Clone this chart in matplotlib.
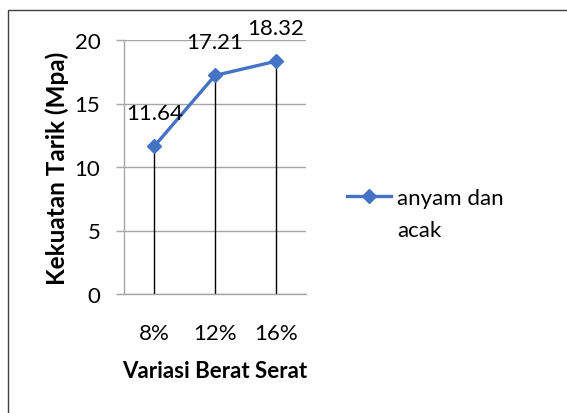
import matplotlib
matplotlib.use("Agg")
import matplotlib.pyplot as plt
from matplotlib.patches import Rectangle
from matplotlib.lines import Line2D

categories = ["8%", "12%", "16%"]
values = [11.64, 17.21, 18.32]
value_labels = ["11.64", "17.21", "18.32"]
yticks = [0, 5, 10, 15, 20]
series_name = "anyam dan\nacak"
xlabel = "Variasi Berat Serat"
ylabel = "Kekuatan Tarik (Mpa)"

plt.rcParams['font.family'] = ['Lato', 'DejaVu Sans']

W, H = 567, 414
fig = plt.figure(figsize=(W / 100, H / 100), dpi=100)
fig.patch.set_facecolor("white")

# outer border (right/bottom cut off)
fig.patches.append(Rectangle((8 / W, -0.05), 1.2, 1 - 11 / H + 0.05,
                             transform=fig.transFigure, fill=False,
                             edgecolor="#404040", linewidth=1.0))

ax = fig.add_axes([124 / W, 1 - 295 / H, (306 - 124) / W, (295 - 41) / H])
x = list(range(len(categories)))
blue = "#4472C4"
grid_c = "#A6A6A6"
fs = 16

ax.set_xlim(-0.5, len(categories) - 0.5)
ax.set_ylim(0, 20)
ax.set_yticks(yticks)
ax.set_yticklabels([str(t) for t in yticks])
ax.set_xticks(x)
ax.set_xticklabels(categories)

for s in ["top", "right"]:
    ax.spines[s].set_visible(False)
ax.spines["left"].set_color(grid_c)
ax.spines["bottom"].set_color(grid_c)
ax.spines["left"].set_linewidth(1.0)
ax.spines["bottom"].set_linewidth(1.0)

ax.grid(axis="y", color=grid_c, linewidth=1.0)
ax.set_axisbelow(True)
ax.tick_params(axis="y", length=6, color=grid_c, width=1.0, pad=11,
               labelsize=fs)
ax.tick_params(axis="x", length=0, pad=21, labelsize=fs)

# drop lines
ax.vlines(x, 0, values, colors="black", linewidth=1.0, zorder=2)
ax.plot(x, values, color=blue, linewidth=2.4, marker="D", markersize=7,
        zorder=3, label=series_name)

for xi, v, lab in zip(x, values, value_labels):
    ax.annotate(lab, (xi, v), xytext=(0, 24), textcoords="offset points",
                ha="center", va="center", fontsize=fs, annotation_clip=False)

ax.set_xlabel(xlabel, fontsize=fs, fontweight="bold", labelpad=12)
ax.set_ylabel(ylabel, fontsize=17.5, fontweight="bold", labelpad=4)

# legend: handle aligned with first line of the series name
name_lines = series_name.split("\n")
handle = Line2D([], [], color=blue, linewidth=2.4, marker="D", markersize=7)
leg = fig.legend([handle], [name_lines[0]], loc="center left",
                 bbox_to_anchor=(347 / W, 1 - 199 / H), frameon=False,
                 fontsize=fs, handlelength=2.0, handletextpad=0.25,
                 borderaxespad=0, borderpad=0)
fig.canvas.draw()
bb = leg.get_texts()[0].get_window_extent()
fig.text(bb.x0 / W, (bb.y0 - 32) / H, "\n".join(name_lines[1:]),
         fontsize=fs, ha="left", va="bottom")

fig.savefig("out.png", dpi=100)
